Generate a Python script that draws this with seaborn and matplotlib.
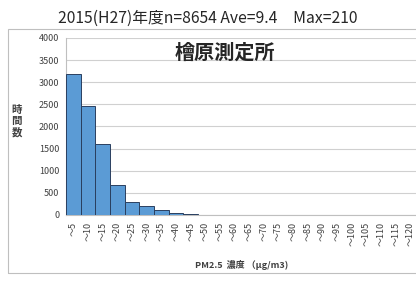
import matplotlib
matplotlib.use("Agg")
import matplotlib.pyplot as plt
import seaborn as sns
import pandas as pd
from matplotlib.patches import Rectangle

# bins (upper edge, ug/m3) and hour counts
bins = ["～%d" % v for v in range(5, 125, 5)]
hours = [3180, 2470, 1610, 680, 300, 210, 120, 50, 15, 8, 4, 2, 3, 1, 0, 0, 0, 0, 0, 0, 0, 0, 0, 1]

title = "2015(H27)年度n=8654 Ave=9.4　Max=210"
station = "檜原測定所"

sns.set_style("white")
plt.rcParams['font.family'] = ['Noto Sans CJK JP', 'DejaVu Sans']

df = pd.DataFrame({"bin": bins, "hours": hours})

fig = plt.figure(figsize=(4.16, 2.81), dpi=100)
ax = fig.add_axes([0.159, 0.235, 0.845, 0.63])

sns.barplot(data=df, x="bin", y="hours", color="#5B9BD5", saturation=1,
            width=1.0, edgecolor="#2A3F5F", linewidth=0.7, ax=ax, zorder=3)

ax.set_ylim(0, 4000)
ax.set_yticks(range(0, 4001, 500))
ax.yaxis.grid(True, color="#D0D0D0", linewidth=0.8, zorder=0)
ax.set_xlim(-0.5, len(bins) - 0.5)
for s in ["top", "right"]:
    ax.spines[s].set_visible(False)
ax.spines["bottom"].set_color("#BFBFBF")
ax.spines["left"].set_color("#BFBFBF")
ax.tick_params(axis="y", labelsize=6.5, colors="#404040", length=3, color="#BFBFBF", pad=2)
ax.tick_params(axis="x", labelsize=6.5, colors="#404040", length=3, color="#BFBFBF",
               labelrotation=90, pad=2)
ax.set_xlabel("")
ax.set_ylabel("")

fig.text(0.5, 0.935, title, ha="center", va="center", fontsize=11.3)
ax.text(0.453, 0.92, station, transform=ax.transAxes, ha="center", va="center",
        fontsize=14.5, fontweight="bold")
fig.text(0.04, 0.568, "時\n間\n数", ha="center", va="center", fontsize=7.5,
         fontweight="bold", linespacing=1.1, color="#404040")
fig.text(0.58, 0.057, "PM2.5  濃度 （μg/m3)", ha="center", va="center", fontsize=6.5,
         fontweight="bold", color="#404040")

fig.patches.append(Rectangle((0.019, 0.028), 1.2, 0.869, transform=fig.transFigure,
                             fill=False, edgecolor="#BFBFBF", linewidth=0.8))

fig.savefig("out.png", dpi=100)
